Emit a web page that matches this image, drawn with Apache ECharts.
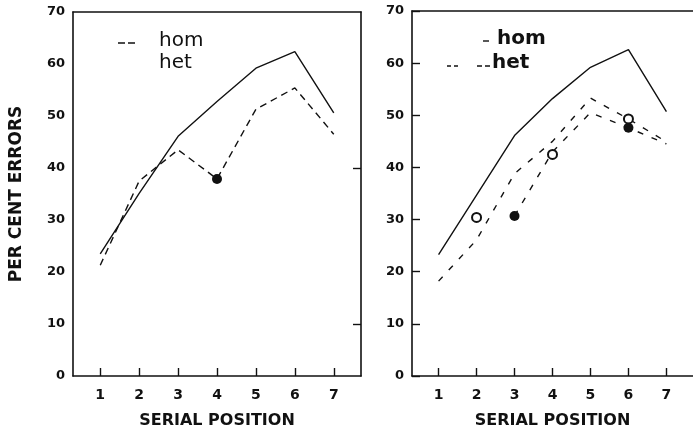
<!DOCTYPE html>
<html><head><meta charset="utf-8">
<script src="https://cdn.jsdelivr.net/npm/echarts@6/dist/echarts.min.js"></script>
<style>html,body{margin:0;padding:0;background:#fff}#c{width:693px;height:434px}</style>
</head><body><div id="c"></div>
<script>
// ---- data ----
const positions = [1, 2, 3, 4, 5, 6, 7];
const yTicks = [0, 10, 20, 30, 40, 50, 60, 70];
const legendLabels = ['hom', 'het'];
const xTitle = 'SERIAL POSITION';
const yTitle = 'PER CENT ERRORS';

const leftSolid  = [23.5, 35.1, 46.1, 52.8, 59.2, 62.4, 50.6];
const leftDashed = [21.3, 37.5, 43.5, 37.9, 51.3, 55.4, 46.5];
const leftFilledPos = [4];
const leftFilledVal = [37.9];

const rightSolid   = [23.3, 34.7, 46.1, 53.2, 59.2, 62.6, 50.7];
const rightDashedA = [18.2, 26.1, 38.8, 45.0, 53.3, 49.3, 44.9];
const rightDashedBPos = [3, 4, 5, 6, 7];
const rightDashedB    = [30.7, 43.0, 50.5, 47.6, 44.5];
const rightOpenPos = [2, 4, 6];
const rightOpenVal = [30.4, 42.5, 49.3];
const rightFilledPos = [3, 6];
const rightFilledVal = [30.7, 47.6];

// ---- helpers ----
const pairs = (xs, ys) => xs.map((x, i) => [x, ys[i]]);
const INK = '#111';
const FONT = 'DejaVu Sans';

function xBottom(gi) {
  return {
    gridIndex: gi, type: 'value', position: 'bottom', min: 0.3, max: 7.7,
    axisLine: { show: true, onZero: false, lineStyle: { color: INK, width: 1.6 } },
    axisTick: { show: true, inside: true, length: 8, customValues: positions, lineStyle: { color: INK, width: 1.4 } },
    axisLabel: { show: true, customValues: positions, margin: 12, color: INK, fontFamily: FONT, fontWeight: 'bold', fontSize: 14 },
    splitLine: { show: false },
    name: xTitle, nameLocation: 'middle', nameGap: 37,
    nameTextStyle: { color: INK, fontFamily: FONT, fontWeight: 'bold', fontSize: 16 }
  };
}
function xTop(gi) {
  return {
    gridIndex: gi, type: 'value', position: 'top', min: 0.3, max: 7.7,
    axisLine: { show: true, onZero: false, lineStyle: { color: INK, width: 1.6 } },
    axisTick: { show: false }, axisLabel: { show: false }, splitLine: { show: false }
  };
}
function yLeft(gi, ticks) {
  return {
    gridIndex: gi, type: 'value', position: 'left', min: 0, max: 70, interval: 10,
    axisLine: { show: true, onZero: false, lineStyle: { color: INK, width: 1.6 } },
    axisTick: { show: ticks, inside: true, length: 8, lineStyle: { color: INK, width: 1.4 } },
    axisLabel: { show: true, margin: 8, color: INK, fontFamily: FONT, fontWeight: 'bold', fontSize: 13,
      customValues: yTicks },
    splitLine: { show: false },
    name: gi === 0 ? yTitle : '', nameLocation: 'middle', nameGap: 48, nameRotate: 90,
    nameTextStyle: { color: INK, fontFamily: FONT, fontWeight: 'bold', fontSize: 17 }
  };
}
function yRight(gi) {
  return {
    gridIndex: gi, type: 'value', position: 'right', min: 0, max: 70, interval: 10,
    axisLine: { show: true, onZero: false, lineStyle: { color: INK, width: 1.6 } },
    axisTick: { show: true, inside: true, length: 8, customValues: [10, 40], lineStyle: { color: INK, width: 1.4 } },
    axisLabel: { show: false }, splitLine: { show: false }
  };
}
function line(xi, yi, data, dashed) {
  return {
    type: 'line', xAxisIndex: xi, yAxisIndex: yi, data: data, symbol: 'none', silent: true,
    lineStyle: { color: INK, width: 1.4, type: dashed || 'solid' }, z: 2
  };
}
function dots(xi, yi, data, filled) {
  return {
    type: 'scatter', xAxisIndex: xi, yAxisIndex: yi, data: data, silent: true,
    symbol: filled ? 'circle' : 'emptyCircle', symbolSize: filled ? 10 : 9,
    itemStyle: { color: INK, opacity: 1, borderColor: INK, borderWidth: filled ? 0 : 2.6 }, z: 5
  };
}

const chart = echarts.init(document.getElementById('c'), null, { renderer: 'canvas' });
chart.setOption({
  backgroundColor: '#fff',
  animation: false,
  grid: [
    { left: 73, top: 12, width: 288, height: 366 },
    { left: 412, top: 11, width: 288, height: 367 }
  ],
  xAxis: [xBottom(0), xTop(0), xBottom(1), xTop(1)],
  yAxis: [yLeft(0, false), yRight(0), yLeft(1, true)],
  series: [
    line(0, 0, pairs(positions, leftSolid)),
    line(0, 0, pairs(positions, leftDashed), [7, 5]),
    dots(0, 0, pairs(leftFilledPos, leftFilledVal), true),
    line(2, 2, pairs(positions, rightSolid)),
    line(2, 2, pairs(positions, rightDashedA), [6, 9]),
    line(2, 2, pairs(rightDashedBPos, rightDashedB), [6, 9]),
    dots(2, 2, pairs(rightOpenPos, rightOpenVal), false),
    dots(2, 2, pairs(rightFilledPos, rightFilledVal), true)
  ],
  graphic: [
    { type: 'text', left: 159, top: 31, style: { text: legendLabels[0], fill: INK, font: '20px "DejaVu Sans"' } },
    { type: 'text', left: 159, top: 53, style: { text: legendLabels[1], fill: INK, font: '20px "DejaVu Sans"' } },
    { type: 'line', shape: { x1: 118, y1: 43, x2: 135, y2: 43 }, style: { stroke: INK, lineWidth: 1.4, lineDash: [7, 3] } },
    { type: 'text', left: 497, top: 29, style: { text: legendLabels[0], fill: INK, font: 'bold 20px "DejaVu Sans"' } },
    { type: 'text', left: 492, top: 53, style: { text: legendLabels[1], fill: INK, font: 'bold 20px "DejaVu Sans"' } },
    { type: 'line', shape: { x1: 483, y1: 41, x2: 489, y2: 41 }, style: { stroke: INK, lineWidth: 1.4 } },
    { type: 'line', shape: { x1: 447, y1: 66, x2: 458, y2: 66 }, style: { stroke: INK, lineWidth: 1.4, lineDash: [4, 3] } },
    { type: 'line', shape: { x1: 477, y1: 66, x2: 490, y2: 66 }, style: { stroke: INK, lineWidth: 1.4, lineDash: [5, 3] } }
  ]
});
</script></body></html>
